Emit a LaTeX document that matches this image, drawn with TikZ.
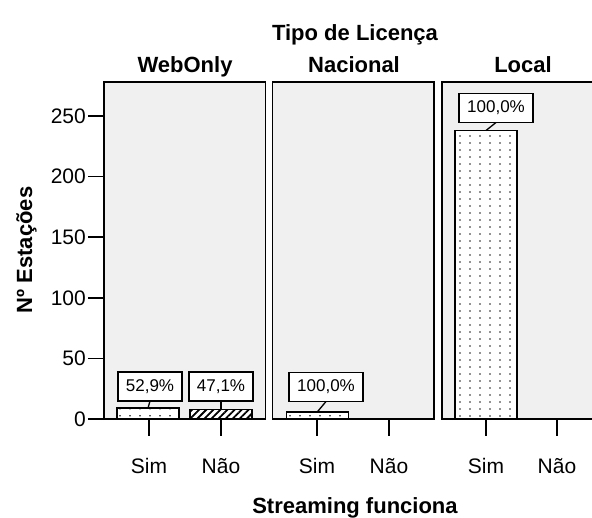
\documentclass[tikz,border=0pt]{standalone}
\usepackage{fontspec}
\setmainfont{Liberation Sans}
\usepackage{xcolor}
\usetikzlibrary{patterns.meta}
\definecolor{panelgray}{HTML}{F0F0F0}
\tikzdeclarepattern{name=sparsedots, type=uncolored,
  bottom left={(-.5pt,-.5pt)}, top right={(9.5pt,6.2pt)},
  tile size={(10pt,6.7pt)},
  code={\fill (0,0) rectangle (1.3pt,1.3pt);}}

\begin{document}
\begin{tikzpicture}[x=1pt,y=-1pt]
\tikzstyle{panel} = [draw,line width=1.6,fill=panelgray];
\tikzstyle{tick} = [line width=1.6];
\tikzstyle{num} = [font=\fontsize{21}{25}\selectfont,inner sep=1];
\tikzstyle{cat} = [font=\fontsize{21}{25}\selectfont,inner sep=0];
\tikzstyle{head} = [font=\bfseries\fontsize{22}{26}\selectfont,inner sep=0];
\tikzstyle{bar} = [draw,line width=1.6,fill=white,minimum width=62,inner sep=0,outer sep=0,anchor=south];
\tikzstyle{dotbar} = [bar,postaction={pattern=sparsedots}];
\tikzstyle{hatchbar} = [bar,postaction={pattern={Lines[angle=45,distance=5pt,line width=1.8pt]}}];
\tikzstyle{pct} = [draw,line width=1.3,fill=white,font=\fontsize{17}{20}\selectfont,minimum height=29,inner sep=0,outer sep=0];
\tikzstyle{link} = [line width=1.3];
\useasboundingbox (0,0) rectangle (592,517);
\clip (0,0) rectangle (592,517);
% panels
\draw [panel] (104,82) rectangle (265.5,419);
\draw [panel] (272.5,82) rectangle (434,419);
\draw [panel] (442,82) rectangle (603,419);
% y axis
\foreach \v in {0,50,...,250}{
  \draw [tick] (88,419-\v*1.212) -- (104,419-\v*1.212);
  \node [num,anchor=east] (y\v) at (87,419-\v*1.212) {\v};
}
% x axis
\foreach \x/\t [count=\i] in {149/Sim,221/Não,317/Sim,389/Não,486/Sim,557/Não}{
  \draw [tick] (\x,419) -- (\x,436);
  \node [cat,anchor=base] (x\i) at (\x,473) {\t};
}
% bars
\node [dotbar,minimum height=10.9] (b1) at (148,419) {};
\node [hatchbar,minimum height=9.7] (b2) at (221,419) {};
\node [dotbar,minimum height=7.3] (b3) at (317.5,419) {};
\node [dotbar,minimum height=288.5] (b4) at (486,419) {};
\node [pct,minimum width=64] (l1) at (150,386.5) {52,9\%};
\node [pct,minimum width=64] (l2) at (221,386.5) {47,1\%};
\node [pct,minimum width=74] (l3) at (326,387) {100,0\%};
\node [pct,minimum width=74] (l4) at (496,108) {100,0\%};
\draw [link] (l1.south) -- (b1.north);
\draw [link] (l2.south) -- (b2.north);
\draw [link] (l3.south) -- (b3.north);
\draw [link] (l4.south) -- (b4.north);
% titles
\node [head,anchor=base] (t1) at (355,40) {Tipo de Licença};
\node [head,anchor=base] (h1) at (185,72) {WebOnly};
\node [head,anchor=base] (h2) at (354,72) {Nacional};
\node [head,anchor=base] (h3) at (523,72) {Local};
\node [head,anchor=base] (t2) at (355,513) {Streaming funciona};
\node [head,anchor=base,rotate=90] (t3) at (32,250) {Nº Estações};
\end{tikzpicture}
\end{document}
